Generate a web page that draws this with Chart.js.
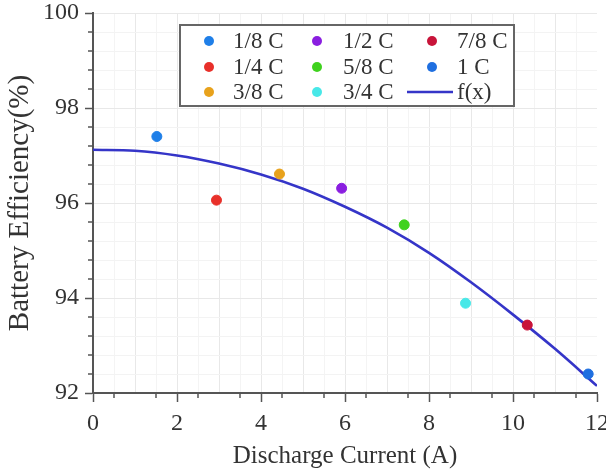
<!DOCTYPE html>
<html>
<head>
<meta charset="utf-8">
<script src="https://cdn.jsdelivr.net/npm/chart.js@4.4.1/dist/chart.umd.min.js"></script>
<style>
  html, body { margin: 0; padding: 0; background: #ffffff; }
  #wrap { width: 606px; height: 475px; position: relative; }
</style>
</head>
<body>
<div id="wrap"><canvas id="c" width="606" height="475"></canvas></div>
<script>
// ---- data ----
const categories = ['1/8 C', '1/4 C', '3/8 C', '1/2 C', '5/8 C', '3/4 C', '7/8 C', '1 C'];
const currents = [1.52, 2.94, 4.44, 5.92, 7.41, 8.87, 10.34, 11.79];
const efficiencies = [97.40, 96.06, 96.61, 96.31, 95.54, 93.89, 93.43, 92.40];
const pointColors = ['#1f7fe8', '#e8302a', '#e8a21c', '#8a1ee0', '#3fd21e', '#48e8e8', '#c8143a', '#1f6fe0'];
const fitLabel = 'f(x)';
const fitX = [0, 1, 2, 3, 4, 5, 6, 7, 8, 9, 10, 11, 12];
const fitY = [97.12, 97.10, 97.00, 96.83, 96.60, 96.30, 95.92, 95.48, 94.95, 94.33, 93.65, 92.93, 92.15];
const fitColor = '#3535c8';
const xTicks = [0, 2, 4, 6, 8, 10, 12];
const yTicks = [92, 94, 96, 98, 100];

const serif = '"Liberation Serif", "DejaVu Serif", serif';

const datasets = categories.map((name, i) => ({
  type: 'scatter',
  label: name,
  data: [{ x: currents[i], y: efficiencies[i] }],
  backgroundColor: pointColors[i],
  borderColor: pointColors[i],
  pointRadius: 5,
  pointHoverRadius: 5,
  order: 1
}));
datasets.push({
  type: 'line',
  label: fitLabel,
  data: fitX.map((x, i) => ({ x: x, y: fitY[i] })),
  borderColor: fitColor,
  backgroundColor: fitColor,
  borderWidth: 2.6,
  pointRadius: 0,
  cubicInterpolationMode: 'monotone',
  fill: false,
  order: 2
});

// grid, minor ticks and in-plot legend
const decor = {
  id: 'decor',
  beforeDraw(chart) {
    const { ctx, chartArea: a, scales: { x, y } } = chart;
    ctx.save();
    ctx.lineWidth = 1;
    for (let v = 0.5; v < 12; v += 0.5) {
      const px = Math.round(x.getPixelForValue(v)) + 0.5;
      ctx.strokeStyle = (Math.abs(v - Math.round(v)) < 1e-6) ? '#e8e8e8' : '#f4f4f4';
      ctx.beginPath(); ctx.moveTo(px, a.top); ctx.lineTo(px, a.bottom); ctx.stroke();
    }
    for (let k = 1; k <= 20; k++) {
      const v = 92 + k * 0.4;
      const py = Math.round(y.getPixelForValue(v)) + 0.5;
      ctx.strokeStyle = (k % 5 === 0) ? '#e8e8e8' : '#f3f3f3';
      ctx.beginPath(); ctx.moveTo(a.left, py); ctx.lineTo(a.right, py); ctx.stroke();
    }
    ctx.restore();
  },
  afterDraw(chart) {
    const { ctx, chartArea: a, scales: { x, y } } = chart;
    ctx.save();
    // minor ticks
    ctx.strokeStyle = '#555';
    ctx.lineWidth = 1.5;
    for (let v = 0.5; v < 12; v += 1) {
      const px = x.getPixelForValue(v);
      ctx.beginPath(); ctx.moveTo(px, a.bottom); ctx.lineTo(px, a.bottom + 5); ctx.stroke();
    }
    for (let k = 0; k < 20; k++) {
      if (k % 5 === 0) continue;
      const py = y.getPixelForValue(92 + k * 0.4);
      ctx.beginPath(); ctx.moveTo(a.left, py); ctx.lineTo(a.left - 5, py); ctx.stroke();
    }
    // legend box
    const bx = 180, by = 25, bw = 334, bh = 81;
    ctx.fillStyle = '#ffffff';
    ctx.fillRect(bx, by, bw, bh);
    ctx.strokeStyle = '#666';
    ctx.lineWidth = 2;
    ctx.strokeRect(bx, by, bw, bh);
    const colMarker = [209, 317, 432];
    const colText = [233, 343, 457];
    const rowY = [41, 67, 92];
    ctx.font = '23px ' + serif;
    ctx.textBaseline = 'middle';
    ctx.textAlign = 'left';
    chart.data.datasets.forEach((ds, i) => {
      const col = Math.floor(i / 3), row = i % 3;
      const cy = rowY[row];
      if (ds.type === 'line') {
        ctx.strokeStyle = ds.borderColor;
        ctx.lineWidth = 2.6;
        ctx.beginPath(); ctx.moveTo(407, cy); ctx.lineTo(453, cy); ctx.stroke();
      } else {
        ctx.fillStyle = ds.backgroundColor;
        ctx.beginPath(); ctx.arc(colMarker[col], cy, 5, 0, Math.PI * 2); ctx.fill();
      }
      ctx.fillStyle = '#333';
      ctx.fillText(ds.label, colText[col], cy + 1);
    });
    ctx.restore();
  }
};

new Chart(document.getElementById('c'), {
  data: { datasets: datasets },
  options: {
    responsive: false,
    animation: false,
    events: [],
    layout: { padding: { top: 13, right: 9, left: 0, bottom: 0 } },
    plugins: { legend: { display: false }, tooltip: { enabled: false } },
    scales: {
      x: {
        type: 'linear',
        min: 0, max: 12,
        afterBuildTicks: s => { s.ticks = xTicks.map(v => ({ value: v })); },
        afterFit: s => { s.height = 82; s.paddingLeft = 0; s.paddingRight = 0; },
        grid: { drawOnChartArea: false, tickLength: 9, color: '#555', tickWidth: 1.5 },
        border: { color: '#555', width: 2 },
        ticks: { font: { family: serif, size: 24 }, color: '#333', padding: 7, maxRotation: 0 },
        title: { display: true, text: 'Discharge Current (A)', font: { family: serif, size: 25 }, color: '#333', padding: { top: 0, bottom: 4 } }
      },
      y: {
        type: 'linear',
        min: 92, max: 100,
        afterBuildTicks: s => { s.ticks = yTicks.map(v => ({ value: v })); },
        afterFit: s => { s.width = 93; s.paddingTop = 0; s.paddingBottom = 0; },
        grid: { drawOnChartArea: false, tickLength: 8, color: '#555', tickWidth: 1.5 },
        border: { color: '#555', width: 2 },
        ticks: { font: { family: serif, size: 24 }, color: '#333', padding: 6 },
        title: { display: true, text: 'Battery Efficiency(%)', font: { family: serif, size: 29 }, color: '#333', padding: { top: 3, bottom: 0 } }
      }
    }
  },
  plugins: [decor]
});
</script>
</body>
</html>
